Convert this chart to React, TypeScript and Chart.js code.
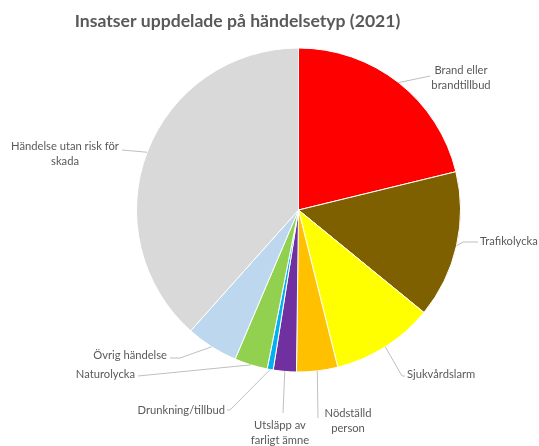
import React, { useEffect, useRef } from "react";
import { Chart, registerables } from "chart.js";

Chart.register(...registerables);

const categories = [
  "Brand eller brandtillbud",
  "Trafikolycka",
  "Sjukvårdslarm",
  "Nödställd person",
  "Utsläpp av farligt ämne",
  "Drunkning/tillbud",
  "Naturolycka",
  "Övrig händelse",
  "Händelse utan risk för skada",
];
const values = [212, 147, 102, 41, 23, 6, 33, 52, 384];
const colors = [
  "#FF0000",
  "#7F6000",
  "#FFFF00",
  "#FFC000",
  "#7030A0",
  "#00B0F0",
  "#92D050",
  "#BDD7EE",
  "#D9D9D9",
];

// label text lines (as shown in the chart)
const labelLines = [
  ["Brand eller", "brandtillbud"],
  ["Trafikolycka"],
  ["Sjukvårdslarm"],
  ["Nödställd", "person"],
  ["Utsläpp av", "farligt ämne"],
  ["Drunkning/tillbud"],
  ["Naturolycka"],
  ["Övrig händelse"],
  ["Händelse utan risk för", "skada"],
];

// label placement (manually positioned data labels, like in the original)
type Placement = { tx: number; ty: number; align: CanvasTextAlign; leader: number[][] };
const placements: Placement[] = [
  { tx: 461, ty: 70, align: "center", leader: [[430, 76]] },
  { tx: 480, ty: 241, align: "left", leader: [[463, 242], [478, 242]] },
  { tx: 407, ty: 374, align: "left", leader: [[402, 376], [405, 376]] },
  { tx: 348, ty: 413, align: "center", leader: [[318, 418]] },
  { tx: 280, ty: 425, align: "center", leader: [[283, 413]] },
  { tx: 225, ty: 410, align: "right", leader: [[230, 410], [227, 410]] },
  { tx: 135, ty: 374, align: "right", leader: [[138, 376]] },
  { tx: 167, ty: 355, align: "right", leader: [[180, 358], [170, 358]] },
  { tx: 65, ty: 146, align: "center", leader: [[122, 150]] },
];

const titleText = "Insatser uppdelade på händelsetyp (2021)";

const labelPlugin = {
  id: "manualLabels",
  afterDraw(chart: any) {
    const ctx = chart.ctx as CanvasRenderingContext2D;
    const meta = chart.getDatasetMeta(0);
    ctx.save();
    // title
    ctx.fillStyle = "#595959";
    ctx.font = "bold 17.6px Lato";
    ctx.textAlign = "center";
    ctx.textBaseline = "middle";
    ctx.fillText(titleText, 237.5, 21);

    meta.data.forEach((arc: any, i: number) => {
      const p = arc.getProps(["startAngle", "endAngle", "outerRadius", "x", "y"], true);
      const mid = (p.startAngle + p.endAngle) / 2;
      const sx = p.x + Math.cos(mid) * p.outerRadius;
      const sy = p.y + Math.sin(mid) * p.outerRadius;
      const pl = placements[i];
      ctx.strokeStyle = "#BFBFBF";
      ctx.lineWidth = 1;
      ctx.beginPath();
      ctx.moveTo(sx, sy);
      pl.leader.forEach((pt) => ctx.lineTo(pt[0], pt[1]));
      ctx.stroke();

      ctx.fillStyle = "#595959";
      ctx.font = "11.2px Lato";
      ctx.textAlign = pl.align;
      ctx.textBaseline = "middle";
      labelLines[i].forEach((line, k) => {
        ctx.fillText(line, pl.tx, pl.ty + k * 15);
      });
    });
    ctx.restore();
  },
};

export default function App() {
  const ref = useRef<HTMLCanvasElement | null>(null);
  useEffect(() => {
    if (!ref.current) return;
    const chart = new Chart(ref.current, {
      type: "pie",
      data: {
        labels: categories,
        datasets: [
          {
            data: values,
            backgroundColor: colors,
            borderColor: "#FFFFFF",
            borderWidth: 1,
          },
        ],
      },
      options: {
        responsive: false,
        animation: false,
        layout: { padding: { left: 136, right: 78, top: 47, bottom: 73 } },
        plugins: {
          legend: { display: false },
          tooltip: { enabled: false },
          title: { display: false },
        },
      },
      plugins: [labelPlugin],
    });
    return () => chart.destroy();
  }, []);
  return (
    <div style={{ position: "fixed", left: 0, top: 0, width: 539, height: 446, background: "#fff" }}>
      <canvas ref={ref} width={539} height={446} style={{ width: 539, height: 446 }} />
    </div>
  );
}
